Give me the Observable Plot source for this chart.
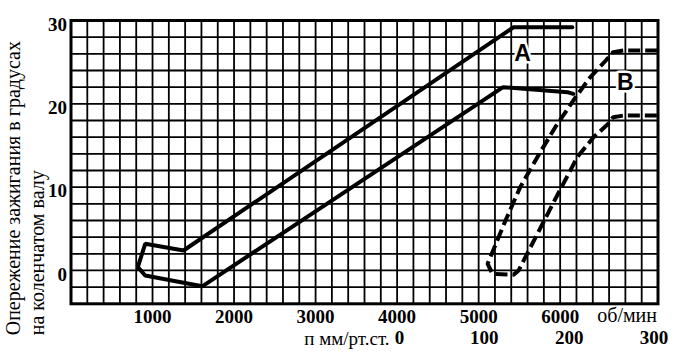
<!DOCTYPE html>
<html>
<head>
<meta charset="utf-8">
<script src="https://cdn.jsdelivr.net/npm/d3@7"></script>
<script src="https://cdn.jsdelivr.net/npm/@observablehq/plot@0.6"></script>
<style>
  html, body { margin: 0; padding: 0; background: white; }
</style>
</head>
<body>
<div id="chart"></div>
<script>
// ---- data ----
const rpmTicks = [1000, 2000, 3000, 4000, 5000, 6000];
const degTicks = [0, 10, 20, 30];
const vacTicks = [0, 100, 200, 300];           // мм рт.ст. (second scale)
const rpmUnit = "об/мин";
const vacUnit = "п мм/рт.ст.";
const yTitle1 = "Опережение зажигания в градусах";
const yTitle2 = "на коленчатом валу";

// curve A (centrifugal advance, solid) – one closed-ish band
const curveA_rpm = [6150, 5430, 1380, 910, 820, 910, 1610, 5300, 6090, 6160];
const curveA_deg = [29.2, 29.2, 2.4, 3.2, 0.4, -0.6, -1.9, 22.0, 21.4, 21.2];

// curve B (vacuum advance, dashed)
const curveB_rpm = [7190, 6780, 6650, 6560, 6370, 6190, 5940, 5720, 5510, 5330, 5110, 5170, 5430, 5490, 5910, 6210, 6410, 6590, 6650, 6780, 7190];
const curveB_deg = [26.4, 26.4, 26.2, 25.2, 23.2, 20.8, 17.2, 13.6, 10.0, 6.0, 0.8, -0.4, -0.5, 0.0, 8.0, 13.6, 16.0, 17.6, 18.4, 18.6, 18.6];

const curveNames = ["A", "B"];
const labelRpm = [5540, 6800];
const labelDeg = [26.0, 22.6];

// vacuum scale placement relative to the rpm axis
const vacZeroRpm = 4030;
const rpmPerMm = 10.4;

// ---- build tables ----
const A = curveA_rpm.map((r, i) => ({rpm: r, deg: curveA_deg[i]}));
const B = curveB_rpm.map((r, i) => ({rpm: r, deg: curveB_deg[i]}));
const labels = curveNames.map((n, i) => ({name: n, rpm: labelRpm[i], deg: labelDeg[i]}));

const gridXTicks = d3.range(0, 7201, 200);
const gridYTicks = d3.range(-4, 31, 2);

const serif = "'Liberation Serif', 'Times New Roman', serif";

const chart = Plot.plot({
  width: 680,
  height: 359,
  marginLeft: 70.5,
  marginRight: 22.5,
  marginTop: 20,
  marginBottom: 55.7,
  x: {domain: [0, 7200]},
  y: {domain: [-4, 30]},
  style: {background: "white", color: "black", fontFamily: serif, fontSize: "19px"},
  marks: [
    Plot.gridX({ticks: gridXTicks, stroke: "black", strokeOpacity: 1, strokeWidth: 1.8}),
    Plot.gridY({ticks: gridYTicks, stroke: "black", strokeOpacity: 1, strokeWidth: 1.8}),
    Plot.frame({stroke: "black", strokeWidth: 3}),
    Plot.axisX({ticks: rpmTicks, tickSize: 0, tickPadding: 6, label: null, fontWeight: "bold", fontSize: 19, fontFamily: serif, tickFormat: d => String(d)}),
    Plot.axisY({ticks: degTicks, tickSize: 0, tickPadding: 4, dy: 4, label: null, fontWeight: "bold", fontSize: 19, fontFamily: serif}),
    Plot.line(A, {x: "rpm", y: "deg", stroke: "black", strokeWidth: 4, strokeLinejoin: "miter"}),
    Plot.line(B, {x: "rpm", y: "deg", stroke: "black", strokeWidth: 4, strokeLinejoin: "miter", strokeLinecap: "butt", strokeDasharray: "12,5"}),
    Plot.text(labels, {x: "rpm", y: "deg", text: "name", fontFamily: "'Liberation Sans', Arial, sans-serif", fontWeight: "bold", fontSize: 23, fill: "black", stroke: "white", strokeWidth: 5}),
    // rpm unit
    Plot.text([rpmUnit], {frameAnchor: "bottom-right", textAnchor: "end", dx: -1, dy: 18, fontSize: 20, fontFamily: serif}),
    // vacuum scale
    Plot.text(vacTicks, {x: d => vacZeroRpm + d * rpmPerMm, frameAnchor: "bottom", dy: 40, text: d => String(d), fontWeight: "bold", fontSize: 19, fontFamily: serif}),
    Plot.text([vacUnit], {x: [vacZeroRpm], frameAnchor: "bottom", textAnchor: "end", dx: -10, dy: 41, fontSize: 19, fontFamily: serif}),
    // y title (two rotated lines)
    Plot.text([yTitle1], {frameAnchor: "bottom-left", rotate: -90, textAnchor: "start", lineAnchor: "middle", dx: -57, dy: 31.5, fontSize: 20, fontFamily: serif}),
    Plot.text([yTitle2], {frameAnchor: "bottom-left", rotate: -90, textAnchor: "start", lineAnchor: "middle", dx: -33, dy: 31.5, fontSize: 20, fontFamily: serif})
  ]
});
document.getElementById("chart").appendChild(chart);
</script>
</body>
</html>
